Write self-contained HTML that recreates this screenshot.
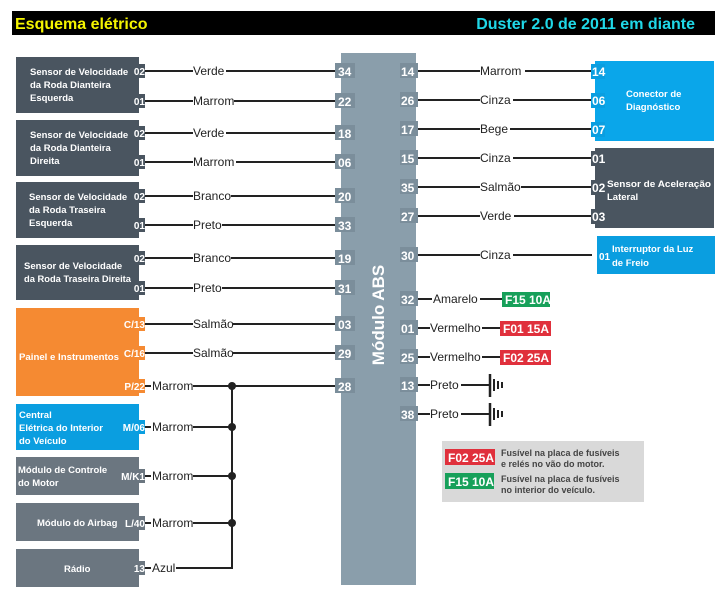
<!DOCTYPE html>
<html><head><meta charset="utf-8"><style>
html,body{margin:0;padding:0;background:#fff;}
svg{display:block;font-family:"Liberation Sans",Arial,sans-serif;}
.w{stroke:#222;stroke-width:2;fill:none}
.lb{font-size:12px;fill:#222}
.bt{font-size:9.5px;font-weight:bold;fill:#fff}
.pn{font-size:10px;font-weight:bold;fill:#fff}
.ab{font-size:12px;font-weight:bold;fill:#fff}
</style></head><body>
<svg width="726" height="614" viewBox="0 0 726 614" xmlns="http://www.w3.org/2000/svg">
<rect x="0" y="0" width="726" height="614" fill="#fff"/>
<rect x="12" y="11" width="703" height="24" fill="#000"/>
<text x="15" y="29" font-size="16" font-weight="bold" fill="#f5f500">Esquema elétrico</text>
<text x="695" y="29" font-size="16" font-weight="bold" fill="#20d8e8" text-anchor="end">Duster 2.0 de 2011 em diante</text>

<!-- ABS module -->
<rect x="341" y="53" width="75" height="532" fill="#8a9eab"/>
<text transform="translate(384,315) rotate(-90)" font-size="17" font-weight="bold" fill="#fff" text-anchor="middle">Módulo ABS</text>

<!-- left boxes -->
<g fill="#4a5560">
<rect x="16" y="57" width="123" height="56"/>
<rect x="16" y="120" width="123" height="56"/>
<rect x="16" y="182" width="123" height="56"/>
<rect x="16" y="245" width="123" height="55"/>
<rect x="132" y="64" width="13" height="14"/><rect x="132" y="94" width="13" height="14"/>
<rect x="132" y="126" width="13" height="14"/><rect x="132" y="155" width="13" height="14"/>
<rect x="132" y="189" width="13" height="14"/><rect x="132" y="218" width="13" height="14"/>
<rect x="132" y="251" width="13" height="14"/><rect x="132" y="281" width="13" height="14"/>
</g>
<rect x="16" y="308" width="123" height="88" fill="#f58a32"/>
<g fill="#f58a32"><rect x="120" y="317" width="25" height="14"/><rect x="120" y="346" width="25" height="14"/><rect x="120" y="379" width="25" height="14"/></g>
<rect x="16" y="404" width="123" height="46" fill="#0a9ee0"/>
<rect x="120" y="420" width="25" height="14" fill="#0a9ee0"/>
<g fill="#6b7680">
<rect x="16" y="457" width="123" height="38"/>
<rect x="16" y="503" width="123" height="38"/>
<rect x="16" y="549" width="123" height="38"/>
<rect x="120" y="469" width="25" height="14"/><rect x="120" y="516" width="25" height="14"/><rect x="132" y="561" width="13" height="14"/>
</g>
<text class="bt"><tspan x="30" y="75">Sensor de Velocidade</tspan><tspan x="30" y="88">da Roda Dianteira</tspan><tspan x="30" y="101">Esquerda</tspan></text>
<text class="bt"><tspan x="30" y="138">Sensor de Velocidade</tspan><tspan x="30" y="151">da Roda Dianteira</tspan><tspan x="30" y="164">Direita</tspan></text>
<text class="bt"><tspan x="29" y="200">Sensor de Velocidade</tspan><tspan x="29" y="213">da Roda Traseira</tspan><tspan x="29" y="226">Esquerda</tspan></text>
<text class="bt"><tspan x="24" y="269">Sensor de Velocidade</tspan><tspan x="24" y="282" textLength="107" lengthAdjust="spacingAndGlyphs">da Roda Traseira Direita</tspan></text>
<text class="bt" x="19" y="360" textLength="100" lengthAdjust="spacingAndGlyphs">Painel e Instrumentos</text>
<text class="bt"><tspan x="19" y="418">Central</tspan><tspan x="19" y="431">Elétrica do Interior</tspan><tspan x="19" y="444">do Veículo</tspan></text>
<text class="bt"><tspan x="18" y="473">Módulo de Controle</tspan><tspan x="18" y="486">do Motor</tspan></text>
<text class="bt" x="37" y="526">Módulo do Airbag</text>
<text class="bt" x="64" y="572">Rádio</text>

<!-- left pins -->
<g class="pn" text-anchor="end">
<text x="145" y="75">02</text><text x="145" y="105">01</text>
<text x="145" y="137">02</text><text x="145" y="166">01</text>
<text x="145" y="200">02</text><text x="145" y="229">01</text>
<text x="145" y="262">02</text><text x="145" y="292">01</text>
<text x="145" y="328">C/13</text><text x="145" y="357">C/16</text>
<text x="145" y="390">P/22</text><text x="145" y="431">M/06</text>
<text x="145" y="480">M/K1</text><text x="145" y="527">L/40</text>
<text x="145" y="572">13</text>
</g>

<!-- left wires -->
<g class="w">
<path d="M145 71H193M226 71H336"/>
<path d="M145 101H193M234 101H336"/>
<path d="M145 133H193M226 133H336"/>
<path d="M145 162H193M236 162H336"/>
<path d="M145 196H193M231 196H336"/>
<path d="M145 225H193M222 225H336"/>
<path d="M145 258H193M231 258H336"/>
<path d="M145 288H193M222 288H336"/>
<path d="M145 324H193M233 324H336"/>
<path d="M145 353H193M233 353H336"/>
<path d="M145 386H151M193 386H336"/>
<path d="M145 427H151M193 427H232"/>
<path d="M145 476H151M193 476H232"/>
<path d="M145 523H151M193 523H232"/>
<path d="M145 568H151M176 568H232V386"/>
</g>
<g fill="#222"><circle cx="232" cy="386" r="4"/><circle cx="232" cy="427" r="4"/><circle cx="232" cy="476" r="4"/><circle cx="232" cy="523" r="4"/></g>
<g class="lb">
<text x="193" y="75">Verde</text><text x="193" y="105">Marrom</text>
<text x="193" y="137">Verde</text><text x="193" y="166">Marrom</text>
<text x="193" y="200">Branco</text><text x="193" y="229">Preto</text>
<text x="193" y="262">Branco</text><text x="193" y="292">Preto</text>
<text x="193" y="328">Salmão</text><text x="193" y="357">Salmão</text>
<text x="152" y="390">Marrom</text><text x="152" y="431">Marrom</text>
<text x="152" y="480">Marrom</text><text x="152" y="527">Marrom</text>
<text x="152" y="572">Azul</text>
</g>

<!-- ABS left pins -->
<g fill="#7b8e9b">
<rect x="335" y="63" width="20" height="15"/><rect x="335" y="93" width="20" height="15"/>
<rect x="335" y="125" width="20" height="15"/><rect x="335" y="154" width="20" height="15"/>
<rect x="335" y="188" width="20" height="15"/><rect x="335" y="217" width="20" height="15"/>
<rect x="335" y="250" width="20" height="15"/><rect x="335" y="280" width="20" height="15"/>
<rect x="335" y="316" width="20" height="15"/><rect x="335" y="345" width="20" height="15"/>
<rect x="335" y="378" width="20" height="15"/>
</g>
<g class="ab">
<text x="338" y="76">34</text><text x="338" y="106">22</text>
<text x="338" y="138">18</text><text x="338" y="167">06</text>
<text x="338" y="201">20</text><text x="338" y="230">33</text>
<text x="338" y="263">19</text><text x="338" y="293">31</text>
<text x="338" y="329">03</text><text x="338" y="358">29</text>
<text x="338" y="391">28</text>
</g>

<!-- ABS right pins -->
<g fill="#7b8e9b">
<rect x="400" y="63" width="18" height="15"/><rect x="400" y="92" width="18" height="15"/>
<rect x="400" y="121" width="18" height="15"/><rect x="400" y="150" width="18" height="15"/>
<rect x="400" y="179" width="18" height="15"/><rect x="400" y="208" width="18" height="15"/>
<rect x="400" y="247" width="18" height="15"/><rect x="400" y="291" width="18" height="15"/>
<rect x="400" y="320" width="18" height="15"/><rect x="400" y="349" width="18" height="15"/>
<rect x="400" y="377" width="18" height="15"/><rect x="400" y="406" width="18" height="15"/>
</g>
<g class="ab">
<text x="401" y="76">14</text><text x="401" y="105">26</text>
<text x="401" y="134">17</text><text x="401" y="163">15</text>
<text x="401" y="192">35</text><text x="401" y="221">27</text>
<text x="401" y="260">30</text><text x="401" y="304">32</text>
<text x="401" y="333">01</text><text x="401" y="362">25</text>
<text x="401" y="390">13</text><text x="401" y="419">38</text>
</g>

<!-- right wires -->
<g class="w">
<path d="M418 71H480M525 71H592"/>
<path d="M418 100H480M513 100H592"/>
<path d="M418 129H480M510 129H592"/>
<path d="M418 158H480M513 158H592"/>
<path d="M418 187H480M521 187H592"/>
<path d="M418 216H480M514 216H592"/>
<path d="M418 255H480M513 255H592"/>
<path d="M418 299H432M480 299H502"/>
<path d="M418 328H430M482 328H500"/>
<path d="M418 357H430M482 357H500"/>
<path d="M418 385H430M461 385H490"/>
<path d="M418 414H430M461 414H490"/>
<path d="M490 374V397M490 403V426" stroke-width="2.5"/>
</g>
<g fill="#222">
<rect x="493" y="379" width="2" height="12"/><rect x="497" y="381" width="2" height="8"/><rect x="501" y="382" width="2" height="6"/>
<rect x="493" y="408" width="2" height="12"/><rect x="497" y="410" width="2" height="8"/><rect x="501" y="411" width="2" height="6"/>
</g>
<g class="lb">
<text x="480" y="75">Marrom</text><text x="480" y="104">Cinza</text>
<text x="480" y="133">Bege</text><text x="480" y="162">Cinza</text>
<text x="480" y="191">Salmão</text><text x="480" y="220">Verde</text>
<text x="480" y="259">Cinza</text>
<text x="433" y="303">Amarelo</text><text x="430" y="332">Vermelho</text>
<text x="430" y="361">Vermelho</text><text x="430" y="389">Preto</text>
<text x="430" y="418">Preto</text>
</g>
<rect x="502" y="292" width="48" height="15" fill="#17a05a"/>
<text x="505" y="304" class="ab">F15 10A</text>
<rect x="500" y="321" width="51" height="15" fill="#e0303c"/>
<text x="503" y="333" class="ab">F01 15A</text>
<rect x="500" y="350" width="51" height="15" fill="#e0303c"/>
<text x="503" y="362" class="ab">F02 25A</text>

<!-- right boxes -->
<rect x="595" y="61" width="119" height="80" fill="#0aa6ea"/>
<rect x="595" y="148" width="119" height="80" fill="#4a5560"/>
<rect x="597" y="236" width="118" height="38" fill="#0a9ee0"/>
<g fill="#0a9ee0"><rect x="591" y="64" width="14" height="15"/><rect x="591" y="93" width="14" height="15"/><rect x="591" y="122" width="14" height="15"/></g>
<g fill="#4a5560"><rect x="591" y="151" width="14" height="15"/><rect x="591" y="180" width="14" height="15"/><rect x="591" y="209" width="14" height="15"/></g>
<g class="ab">
<text x="592" y="76">14</text><text x="592" y="105">06</text><text x="592" y="134">07</text>
<text x="592" y="163">01</text><text x="592" y="192">02</text><text x="592" y="221">03</text>
</g>
<text x="599" y="260" class="pn">01</text>
<text class="bt"><tspan x="626" y="97">Conector de</tspan><tspan x="626" y="110">Diagnóstico</tspan></text>
<text class="bt"><tspan x="607" y="187" textLength="104" lengthAdjust="spacingAndGlyphs">Sensor de Aceleração</tspan><tspan x="607" y="200">Lateral</tspan></text>
<text class="bt" font-size="10.5"><tspan x="612" y="252">Interruptor da Luz</tspan><tspan x="612" y="266">de Freio</tspan></text>

<!-- legend -->
<rect x="442" y="441" width="202" height="61" fill="#d9d9d9"/>
<rect x="445" y="449" width="50" height="16" fill="#e0303c"/>
<text x="448" y="462" class="ab">F02 25A</text>
<rect x="445" y="473" width="49" height="16" fill="#17a05a"/>
<text x="448" y="486" class="ab">F15 10A</text>
<text font-size="9" font-weight="bold" fill="#444"><tspan x="501" y="456">Fusível na placa de fusíveis</tspan><tspan x="501" y="467">e relés no vão do motor.</tspan></text>
<text font-size="9" font-weight="bold" fill="#444"><tspan x="501" y="482">Fusível na placa de fusíveis</tspan><tspan x="501" y="493">no interior do veículo.</tspan></text>
</svg>
</body></html>
